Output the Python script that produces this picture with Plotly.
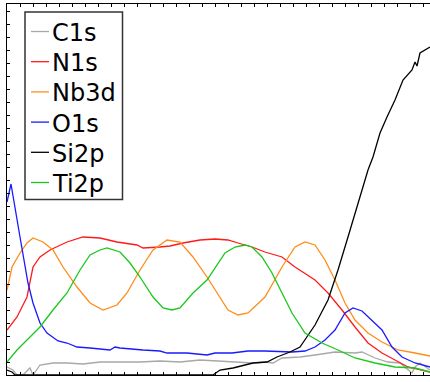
import plotly.graph_objects as go

# Sputter time (arb.) and intensities (arb.)
c1s_x = [0, 6, 10, 16, 23, 26, 33, 46, 60, 76, 93, 113, 133, 153, 173, 193, 208, 226, 235, 246, 258, 266, 275, 293, 308, 328, 348, 355, 368, 381, 393, 405, 408, 413, 423]
c1s_y = [8, 5, 0, 0, 7, 0, 10, 12, 12, 11, 13, 13, 13, 14, 13, 15, 14, 13, 12, 12, 13, 12, 17, 18, 20, 23, 22, 23, 17, 13, 12, 2, 8, 12, 5]

n1s_x = [0, 10, 20, 26, 33, 43, 60, 76, 93, 110, 130, 136, 153, 163, 176, 193, 208, 221, 231, 245, 258, 275, 288, 308, 321, 335, 348, 361, 375, 388, 401, 423]
n1s_y = [45, 58, 78, 108, 118, 125, 133, 138, 137, 133, 130, 127, 128, 129, 132, 135, 136, 135, 132, 128, 123, 118, 108, 95, 82, 65, 48, 32, 22, 15, 8, 3]

nb3d_x = [0, 5, 13, 20, 26, 36, 46, 56, 70, 83, 96, 110, 120, 133, 146, 160, 173, 186, 200, 208, 221, 231, 241, 258, 275, 288, 298, 308, 318, 328, 338, 348, 361, 375, 391, 408, 423]
nb3d_y = [85, 108, 122, 132, 137, 133, 125, 108, 88, 72, 65, 70, 82, 105, 125, 135, 133, 118, 98, 85, 65, 60, 62, 78, 108, 128, 133, 130, 115, 95, 72, 55, 42, 33, 25, 22, 19]

o1s_x = [0, 4, 13, 21, 26, 33, 40, 51, 60, 70, 83, 103, 108, 113, 136, 153, 160, 180, 200, 208, 225, 241, 258, 275, 285, 298, 308, 318, 328, 338, 346, 355, 365, 375, 385, 395, 408, 423]
o1s_y = [173, 191, 138, 92, 72, 52, 42, 34, 32, 28, 27, 25, 28, 27, 25, 24, 22, 22, 20, 22, 22, 24, 24, 23, 23, 24, 28, 35, 45, 62, 67, 64, 55, 45, 28, 18, 12, 8]

si2p_x = [0, 5, 8, 100, 206, 213, 226, 246, 260, 270, 283, 293, 298, 308, 321, 331, 341, 351, 361, 366, 373, 380, 388, 396, 405, 408, 410, 413, 420, 423]
si2p_y = [5, 3, 0, 0, 0, 5, 7, 12, 13, 18, 23, 28, 35, 50, 75, 105, 138, 172, 205, 218, 242, 258, 275, 295, 305, 313, 309, 322, 326, 328]

ti2p_x = [0, 10, 20, 33, 46, 60, 73, 83, 93, 100, 113, 123, 133, 146, 156, 165, 173, 186, 200, 208, 218, 228, 238, 245, 255, 265, 275, 285, 298, 315, 331, 348, 368, 388, 408, 423]
ti2p_y = [13, 25, 35, 48, 65, 82, 105, 120, 125, 127, 123, 112, 98, 78, 67, 65, 67, 82, 95, 107, 122, 128, 130, 128, 118, 102, 82, 62, 42, 32, 25, 17, 12, 8, 7, 3]

names = ["C1s", "N1s", "Nb3d", "O1s", "Si2p", "Ti2p"]
xs_all = [c1s_x, n1s_x, nb3d_x, o1s_x, si2p_x, ti2p_x]
ys_all = [c1s_y, n1s_y, nb3d_y, o1s_y, si2p_y, ti2p_y]
colors = ["#a8a8a8", "#ff1a1a", "#ff8c1a", "#1a1aff", "#000000", "#1ac81a"]

W, H = 430, 382
ML, MR, MT, MB = 7, 0, 4, 7
PW, PH = W - ML - MR, H - MT - MB


def px2paper_x(px):
    return (px - ML) / PW


def px2paper_y(py):
    return 1 - (py - MT) / PH


fig = go.Figure()
for name, xs, ys, col in zip(names, xs_all, ys_all, colors):
    fig.add_trace(go.Scatter(x=xs, y=ys, mode="lines", name=name,
                             line=dict(color=col, width=1.3), showlegend=False))

# Hand-built legend box (to match the compact original)
shapes = [dict(type="rect", xref="paper", yref="paper",
               x0=px2paper_x(25), x1=px2paper_x(122.5),
               y0=px2paper_y(199.5), y1=px2paper_y(12),
               line=dict(color="#333333", width=1.5), fillcolor="white", layer="above")]
annotations = []
row0, rowgap = 31.5, 30.2
for i, (name, col) in enumerate(zip(names, colors)):
    yc = row0 + i * rowgap
    shapes.append(dict(type="line", xref="paper", yref="paper",
                       x0=px2paper_x(31), x1=px2paper_x(49),
                       y0=px2paper_y(yc), y1=px2paper_y(yc),
                       line=dict(color=col, width=1.3), layer="above"))
    annotations.append(dict(xref="paper", yref="paper", x=px2paper_x(50),
                            y=px2paper_y(yc + 1.5), xanchor="left", yanchor="middle",
                            text=name, showarrow=False,
                            font=dict(family="DejaVu Sans", size=24, color="black")))

fig.update_layout(
    width=W, height=H,
    margin=dict(l=ML, r=MR, t=MT, b=MB),
    paper_bgcolor="white", plot_bgcolor="white",
    showlegend=False,
    shapes=shapes, annotations=annotations,
    font=dict(family="DejaVu Sans"),
)
fig.update_xaxes(range=[0, 423], showgrid=False, zeroline=False,
                 showline=True, linecolor="black", linewidth=1, mirror="ticks",
                 ticks="inside", ticklen=3, tickcolor="black", dtick=13, tick0=0,
                 showticklabels=False)
fig.update_yaxes(range=[0, 371], showgrid=False, zeroline=False,
                 showline=True, linecolor="black", linewidth=1, mirror=False,
                 ticks="inside", ticklen=3, tickcolor="black", dtick=13, tick0=0,
                 showticklabels=False)

fig.write_html("out.html")
